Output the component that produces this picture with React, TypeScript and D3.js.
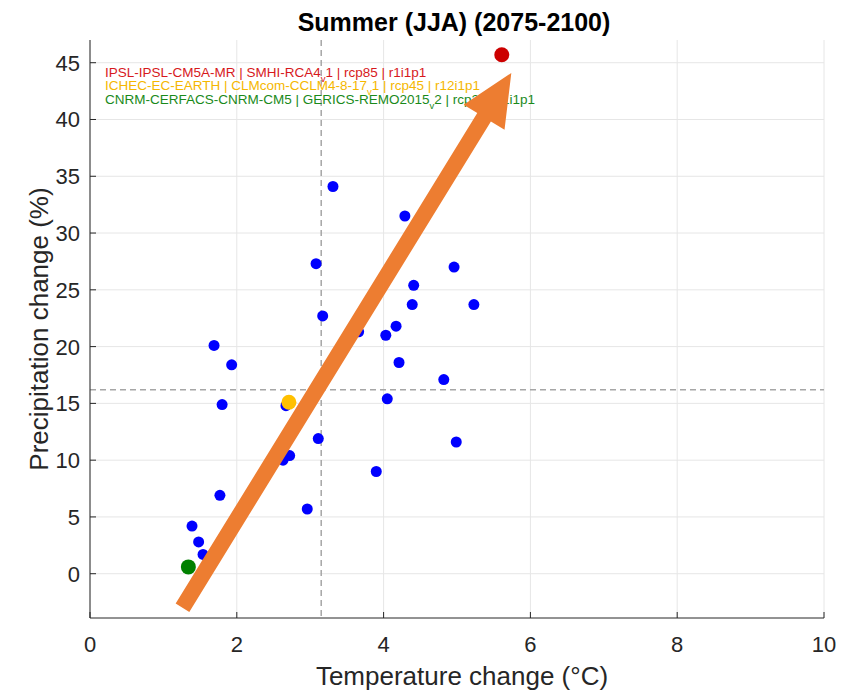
import React from "react";
import * as d3 from "d3";

const tempChange = [3.31, 4.29, 3.08, 4.96, 4.41, 4.39, 5.23, 3.17, 4.17, 3.66, 4.03, 1.69, 1.93, 4.21, 4.82, 4.05, 1.80, 2.67, 3.11, 4.99, 2.72, 2.63, 3.90, 1.77, 2.96, 1.39, 1.48, 1.54];
const precipChange = [34.1, 31.5, 27.3, 27.0, 25.4, 23.7, 23.7, 22.7, 21.8, 21.3, 21.0, 20.1, 18.4, 18.6, 17.1, 15.4, 14.9, 14.8, 11.9, 11.6, 10.4, 10.0, 9.0, 6.9, 5.7, 4.2, 2.8, 1.7];

const highlightModels = [
  { pre: "IPSL-IPSL-CM5A-MR | SMHI-RCA4", sub: "v", post: "1 | rcp85 | r1i1p1", color: "#D7191C", dot: "#CC0000", t: 5.61, p: 45.7 },
  { pre: "ICHEC-EC-EARTH | CLMcom-CCLM4-8-17", sub: "v", post: "1 | rcp45 | r12i1p1", color: "#F5B700", dot: "#FFC000", t: 2.71, p: 15.1 },
  { pre: "CNRM-CERFACS-CNRM-CM5 | GERICS-REMO2015", sub: "v", post: "2 | rcp26 | r1i1p1", color: "#1A8A1A", dot: "#008000", t: 1.34, p: 0.6 },
];

const meanTemp = 3.15;
const meanPrecip = 16.2;
const xTicks = [0, 2, 4, 6, 8, 10];
const yTicks = [0, 5, 10, 15, 20, 25, 30, 35, 40, 45];
const arrowStart = [1.26, -3.0];
const arrowEnd = [5.74, 44.1];

export default function App() {
  const W = 859, H = 691;
  const left = 90, right = 824, top = 40, bottom = 618;
  const x = d3.scaleLinear().domain([0, 10]).range([left, right]);
  const y = d3.scaleLinear().domain([-3.9, 47]).range([bottom, top]);
  const font = "'Liberation Sans', Arial, Helvetica, sans-serif";

  // arrow geometry
  const x0 = x(arrowStart[0]), y0 = y(arrowStart[1]);
  const x1 = x(arrowEnd[0]), y1 = y(arrowEnd[1]);
  const len = Math.hypot(x1 - x0, y1 - y0);
  const ux = (x1 - x0) / len, uy = (y1 - y0) / len;
  const px = -uy, py = ux;
  const headLen = 52, headHalf = 24, shaftHalf = 8;
  const bx = x1 - ux * headLen, by = y1 - uy * headLen;
  const arrowPts = [
    [x0 + px * shaftHalf, y0 + py * shaftHalf],
    [bx + px * shaftHalf, by + py * shaftHalf],
    [bx + px * headHalf, by + py * headHalf],
    [x1, y1],
    [bx - px * headHalf, by - py * headHalf],
    [bx - px * shaftHalf, by - py * shaftHalf],
    [x0 - px * shaftHalf, y0 - py * shaftHalf],
  ];

  return (
    <svg width={W} height={H} style={{ position: "absolute", left: 0, top: 0, background: "#fff" }} fontFamily={font}>
      <rect x={0} y={0} width={W} height={H} fill="#fff" />
      {/* grid */}
      {xTicks.map((t) => (
        <line key={"gx" + t} x1={x(t)} x2={x(t)} y1={top} y2={bottom} stroke="#e6e6e6" strokeWidth={1} />
      ))}
      {yTicks.map((t) => (
        <line key={"gy" + t} x1={left} x2={right} y1={y(t)} y2={y(t)} stroke="#e6e6e6" strokeWidth={1} />
      ))}
      {/* mean lines */}
      <line x1={x(meanTemp)} x2={x(meanTemp)} y1={top} y2={bottom} stroke="#a6a6a6" strokeWidth={1.5} strokeDasharray="6,4" />
      <line x1={left} x2={right} y1={y(meanPrecip)} y2={y(meanPrecip)} stroke="#a6a6a6" strokeWidth={1.5} strokeDasharray="6,4" />
      {/* axes */}
      <line x1={left} x2={left} y1={top} y2={bottom} stroke="#262626" strokeWidth={1} />
      <line x1={left} x2={right} y1={bottom} y2={bottom} stroke="#262626" strokeWidth={1} />
      {xTicks.map((t) => (
        <g key={"xt" + t}>
          <line x1={x(t)} x2={x(t)} y1={bottom} y2={bottom - 6} stroke="#262626" />
          <text x={x(t)} y={652} textAnchor="middle" fontSize={22} fill="#262626">{t}</text>
        </g>
      ))}
      {yTicks.map((t) => (
        <g key={"yt" + t}>
          <line x1={left} x2={left + 6} y1={y(t)} y2={y(t)} stroke="#262626" />
          <text x={left - 10} y={y(t) + 8} textAnchor="end" fontSize={22} fill="#262626">{t}</text>
        </g>
      ))}
      {/* points */}
      {tempChange.map((t, i) => (
        <circle key={"p" + i} cx={x(t)} cy={y(precipChange[i])} r={5.5} fill="#0000FF" />
      ))}
      {highlightModels.map((m, i) => (
        <circle key={"h" + i} cx={x(m.t)} cy={y(m.p)} r={7.5} fill={m.dot} />
      ))}
      {/* legend text */}
      {highlightModels.map((m, i) => (
        <text key={"l" + i} x={105} y={76.5 + i * 13.7} fontSize={13.5} fill={m.color}>
          {m.pre}
          <tspan fontSize={9.5} dy={5}>{m.sub}</tspan>
          <tspan dy={-5}>{m.post}</tspan>
        </text>
      ))}
      {/* arrow */}
      <polygon points={arrowPts.map((p) => p.join(",")).join(" ")} fill="#ED7D31" />
      {/* titles */}
      <text x={454} y={31} textAnchor="middle" fontSize={25} fontWeight="bold" fill="#000">Summer (JJA) (2075-2100)</text>
      <text x={462} y={685} textAnchor="middle" fontSize={26} fill="#262626">Temperature change (°C)</text>
      <text transform={`translate(48,${(top + bottom) / 2}) rotate(-90)`} textAnchor="middle" fontSize={26} fill="#262626">Precipitation change (%)</text>
    </svg>
  );
}
